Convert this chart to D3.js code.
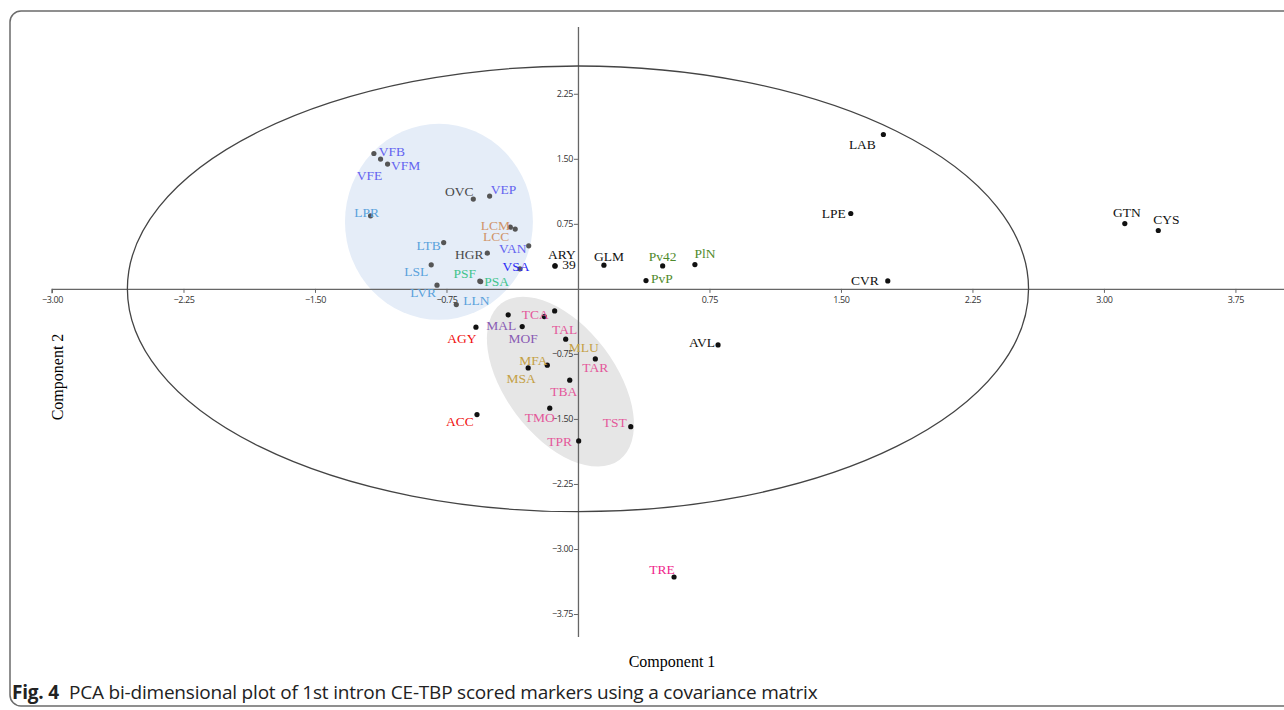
<!DOCTYPE html>
<html>
<head>
<meta charset="utf-8">
<script src="https://cdn.jsdelivr.net/npm/d3@7"></script>
<style>
  body { margin: 0; background: #fff; }
  svg { display: block; }
</style>
</head>
<body>
<div id="chart"></div>
<script>
var width = 1284;
var height = 710;

// marker names, scores on component 1 and 2, and group of each marker
var markers = ["VFB", "VFE", "VFM", "OVC", "VEP", "LPR", "LCM", "LCC", "LTB", "HGR",
  "VAN", "VSA", "LSL", "PSF", "PSA", "LVR", "LLN", "MAL", "TCA", "TAL",
  "MOF", "AGY", "MLU", "MFA", "TAR", "MSA", "TBA", "TMO", "ACC", "TST",
  "TPR", "ARY", "39", "GLM", "Pv42", "PvP", "PlN", "LAB", "LPE", "CVR",
  "GTN", "CYS", "AVL", "TRE"];
var comp1 = [-1.164, -1.126, -1.086, -0.597, -0.504, -1.183, -0.386, -0.358, -0.766, -0.517,
  -0.281, -0.331, -0.837, -0.560, -0.555, -0.804, -0.694, -0.398, -0.192, -0.133,
  -0.318, -0.582, -0.070, -0.175, 0.099, -0.284, -0.047, -0.161, -0.576, 0.301,
  0.004, -0.131, -0.131, 0.148, 0.483, 0.388, 0.667, 1.742, 1.556, 1.767,
  3.119, 3.310, 0.799, 0.548];
var comp2 = [1.561, 1.497, 1.439, 1.035, 1.070, 0.842, 0.712, 0.689, 0.534, 0.412,
  0.496, 0.231, 0.277, 0.090, 0.084, 0.043, -0.181, -0.300, -0.320, -0.254,
  -0.435, -0.442, -0.580, -0.880, -0.808, -0.912, -1.053, -1.376, -1.450, -1.589,
  -1.754, 0.265, 0.265, 0.273, 0.265, 0.096, 0.280, 1.780, 0.869, 0.092,
  0.753, 0.673, -0.646, -3.323];
var groups = ["V", "V", "V", "O", "V", "L", "C", "C", "L", "O",
  "V", "VS", "L", "P", "P", "L", "L", "M", "T", "T",
  "M", "A", "MG", "MG", "T", "MG", "T", "T", "A", "T",
  "T", "K", "K", "K", "G", "G", "G", "K", "K", "K",
  "K", "K", "K", "TR"];

var xTicks = [-3.00, -2.25, -1.50, -0.75, 0.75, 1.50, 2.25, 3.00, 3.75];
var yTicks = [2.25, 1.50, 0.75, -0.75, -1.50, -2.25, -3.00, -3.75];

// confidence ellipse radius and the two cluster shadings (data units)
var ellipseRadius = 2.57;
var blueCluster = { cx: -0.793, cy: 0.773, rx: 0.536, ry: 1.13 };
var greyCluster = { cx: -0.10, cy: -1.07 };

var groupColors = {
  V: "#6464f0", VS: "#2b2bf5", L: "#5aa2dc", O: "#4a4a4a", C: "#d0946a",
  P: "#3fc48c", M: "#8a5cb4", MG: "#c4a044", T: "#e4589a", A: "#f01010",
  K: "#111", G: "#4f8a2c", TR: "#f0288c"
};

// label nudges in pixels (label centre relative to the dot)
var labelNudge = {
  VFB: [18, -2], VFE: [-11, 16], VFM: [18, 1], OVC: [-14, -8], VEP: [14, -7],
  LPR: [-4, -3], LCM: [-15, -2], LCC: [-19, 7], LTB: [-15, 3], HGR: [-18, 1],
  VAN: [-16, 3], VSA: [-4, -2], LSL: [-15, 7], PSF: [-15, -8], PSA: [16, 0],
  LVR: [-14, 7], LLN: [20, -4], MAL: [-7, 11], TCA: [-9, -2], TAL: [10, 19],
  MOF: [1, 12], AGY: [-14, 11], MLU: [18, 8], MFA: [-14, -5], TAR: [0, 9],
  MSA: [-7, 11], TBA: [-6, 11], TMO: [-10, 9], ACC: [-17, 7], TST: [-16, -4],
  TPR: [-19, 1], ARY: [7, -11], "39": [14, -1], GLM: [5, -9], Pv42: [0, -9],
  PvP: [16, -2], PlN: [10, -11], LAB: [-21, 10], LPE: [-17, 0], CVR: [-23, 0],
  GTN: [2, -11], CYS: [8, -11], AVL: [-16, -2], TRE: [-12, -7]
};

var x = d3.scaleLinear().domain([-3.00, 4.027]).range([52, 1284]);
var y = d3.scaleLinear().domain([3.02, -4.015]).range([27, 637]);

var svg = d3.select("#chart")
  .append("svg")
  .attr("width", width)
  .attr("height", height);

// outer figure frame
svg.append("rect")
  .attr("x", 10)
  .attr("y", 11)
  .attr("width", 1300)
  .attr("height", 695)
  .attr("rx", 11)
  .style("fill", "none")
  .style("stroke", "#6b6b6b")
  .style("stroke-width", 1.5);

// cluster shadings
svg.append("ellipse")
  .attr("cx", x(blueCluster.cx))
  .attr("cy", y(blueCluster.cy))
  .attr("rx", x(blueCluster.cx + blueCluster.rx) - x(blueCluster.cx))
  .attr("ry", y(blueCluster.cy - blueCluster.ry) - y(blueCluster.cy))
  .style("fill", "#e5edf8");

svg.append("ellipse")
  .attr("transform", "translate(" + x(greyCluster.cx) + "," + y(greyCluster.cy) + ") rotate(53)")
  .attr("rx", 98)
  .attr("ry", 55)
  .style("fill", "#e6e6e6");

// axes crossing at the origin
var xAxis = d3.axisBottom(x).tickValues(xTicks).tickSize(4).tickFormat(d3.format(".2f"));
var yAxis = d3.axisLeft(y).tickValues(yTicks).tickSize(4).tickFormat(d3.format(".2f"));

var gx = svg.append("g")
  .attr("transform", "translate(0," + y(0) + ")")
  .call(xAxis);
var gy = svg.append("g")
  .attr("transform", "translate(" + x(0) + ",0)")
  .call(yAxis);

[gx, gy].forEach(function (g) {
  g.select(".domain").style("stroke", "#666").style("stroke-width", 1.3);
  g.selectAll(".tick line").style("stroke", "#666");
  g.selectAll(".tick text")
    .style("font-family", "'Open Sans', sans-serif")
    .style("font-size", "9px")
    .style("letter-spacing", "-0.4px")
    .style("fill", "#333");
});
gx.select(".domain").attr("d", "M" + x(-3) + ",0.5V4.5V0.5H" + width);
gx.selectAll(".tick text").attr("y", 8);
gy.select(".domain").attr("d", "M0.5," + y(3.02) + "V" + y(-4.015));
gy.selectAll(".tick text").attr("x", -5);

// confidence ellipse
svg.append("ellipse")
  .attr("cx", x(0))
  .attr("cy", y(0))
  .attr("rx", x(ellipseRadius) - x(0))
  .attr("ry", y(-ellipseRadius) - y(0))
  .style("fill", "none")
  .style("stroke", "#444")
  .style("stroke-width", 1.3);

var pts = markers.map(function (m, i) {
  return { name: m, c1: comp1[i], c2: comp2[i], group: groups[i] };
});

svg.append("g")
  .selectAll("circle")
  .data(pts)
  .enter()
  .append("circle")
  .attr("cx", function (d) { return x(d.c1); })
  .attr("cy", function (d) { return y(d.c2); })
  .attr("r", 2.6)
  .style("fill", function (d) {
    return "VLOCP".indexOf(d.group) >= 0 || d.group == "VS" ? "#555" : "#111";
  });

svg.append("g")
  .selectAll("text")
  .data(pts)
  .enter()
  .append("text")
  .attr("x", function (d) { return x(d.c1) + labelNudge[d.name][0]; })
  .attr("y", function (d) { return y(d.c2) + labelNudge[d.name][1]; })
  .attr("text-anchor", "middle")
  .attr("dominant-baseline", "central")
  .style("font-family", "'Liberation Serif', 'Times New Roman', serif")
  .style("font-size", "13.5px")
  .style("fill", function (d) { return groupColors[d.group]; })
  .text(function (d) { return d.name; });

// axis titles
svg.append("text")
  .attr("x", 672)
  .attr("y", 667)
  .attr("text-anchor", "middle")
  .style("font-family", "'Liberation Serif', serif")
  .style("font-size", "16px")
  .text("Component 1");

svg.append("text")
  .attr("transform", "translate(63,377) rotate(-90)")
  .attr("text-anchor", "middle")
  .style("font-family", "'Liberation Serif', serif")
  .style("font-size", "16px")
  .text("Component 2");

// caption
var cap = svg.append("text")
  .attr("x", 12)
  .attr("y", 699)
  .style("font-family", "'Open Sans', sans-serif")
  .style("font-size", "19px")
  .style("letter-spacing", "-0.2px")
  .style("fill", "#222");
cap.append("tspan").style("font-weight", "bold").text("Fig. 4");
cap.append("tspan").attr("dx", 10)
  .text("PCA bi-dimensional plot of 1st intron CE-TBP scored markers using a covariance matrix");
</script>
</body>
</html>
